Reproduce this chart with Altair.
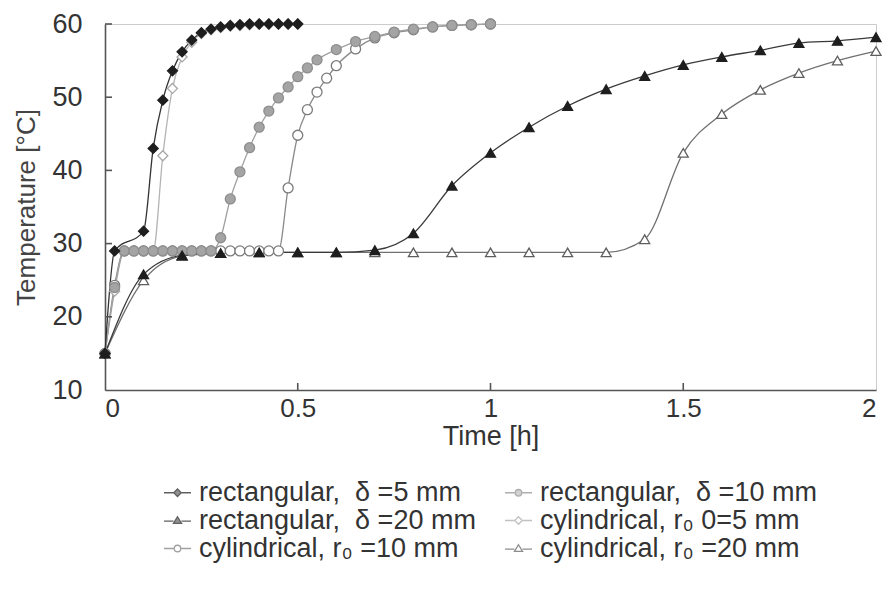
import altair as alt
import pandas as pd

NBSP = "\u00a0"
S_R5 = "rectangular," + NBSP + " δ =5 mm"
S_R10 = "rectangular," + NBSP + " δ =10 mm"
S_R20 = "rectangular," + NBSP + " δ =20 mm"
S_C5 = "cylindrical, r₀ 0=5 mm"
S_C10 = "cylindrical, r₀ =10 mm"
S_C20 = "cylindrical, r₀ =20 mm"

# legend is filled column by column: first column, then second column
LEGEND_ORDER = [S_R5, S_R20, S_C10, S_R10, S_C5, S_C20]

rect5_t = [0, 0.025, 0.1, 0.125, 0.15, 0.175, 0.2, 0.225, 0.25, 0.275, 0.3, 0.325,
           0.35, 0.375, 0.4, 0.425, 0.45, 0.475, 0.5]
rect5_T = [15, 29, 31.7, 43, 49.6, 53.6, 56.2, 57.8, 58.8, 59.3, 59.6, 59.8,
           59.9, 60, 60, 60, 60, 60, 60]

rect10_t = [0, 0.025, 0.05, 0.075, 0.1, 0.125, 0.15, 0.175, 0.2, 0.225, 0.25, 0.275,
            0.3, 0.325, 0.35, 0.375, 0.4, 0.425, 0.45, 0.475, 0.5, 0.525, 0.55,
            0.6, 0.65, 0.7, 0.75, 0.8, 0.85, 0.9, 0.95, 1.0]
rect10_T = [15, 24, 29, 29, 29, 29, 29, 29, 29, 29, 29, 29,
            30.8, 36.1, 39.8, 43.1, 45.9, 48.1, 49.9, 51.4, 52.8, 54.0, 55.1,
            56.5, 57.6, 58.3, 58.9, 59.3, 59.6, 59.8, 59.9, 60]

rect20_t = [0, 0.1, 0.2, 0.3, 0.4, 0.5, 0.6, 0.7, 0.8, 0.9, 1.0,
            1.1, 1.2, 1.3, 1.4, 1.5, 1.6, 1.7, 1.8, 1.9, 2.0]
rect20_T = [15, 25.8, 28.4, 28.7, 28.8, 28.8, 28.8, 29.1, 31.4, 37.9, 42.4,
            45.9, 48.8, 51.1, 52.9, 54.4, 55.5, 56.4, 57.4, 57.7, 58.2]

cyl5_t = [0, 0.025, 0.05, 0.075, 0.1, 0.125, 0.15, 0.175, 0.2, 0.225, 0.25, 0.275,
          0.3, 0.325, 0.35, 0.375, 0.4, 0.425, 0.45, 0.475, 0.5]
cyl5_T = [15, 23.5, 29, 29, 29, 29, 42, 51.2, 55.5, 57.5, 58.7, 59.2,
          59.5, 59.7, 59.8, 59.9, 60, 60, 60, 60, 60]

cyl10_t = [0, 0.025, 0.05, 0.075, 0.1, 0.125, 0.15, 0.175, 0.2, 0.225, 0.25, 0.275,
           0.3, 0.325, 0.35, 0.375, 0.4, 0.425, 0.45, 0.475, 0.5, 0.525, 0.55, 0.575,
           0.6, 0.65, 0.7, 0.75, 0.8, 0.85, 0.9, 0.95, 1.0]
cyl10_T = [15, 24.3, 29, 29, 29, 29, 29, 29, 29, 29, 29, 29,
           29, 29, 29, 29, 29, 29, 29, 37.6, 44.8, 48.3, 50.7, 52.6,
           54.3, 56.6, 58.1, 58.8, 59.2, 59.6, 59.8, 59.9, 60]

cyl20_t = [0, 0.1, 0.2, 0.3, 0.4, 0.5, 0.6, 0.7, 0.8, 0.9, 1.0,
           1.1, 1.2, 1.3, 1.4, 1.5, 1.6, 1.7, 1.8, 1.9, 2.0]
cyl20_T = [15, 25.0, 28.3, 28.7, 28.8, 28.8, 28.8, 28.8, 28.8, 28.8, 28.8,
           28.8, 28.8, 28.8, 30.6, 42.4, 47.7, 51.0, 53.3, 55.0, 56.3]

X_TICKS = [0, 0.5, 1, 1.5, 2]
Y_TICKS = [10, 20, 30, 40, 50, 60]
X_INNER = [0.5, 1, 1.5]
Y_INNER = [20, 30, 40, 50, 60]

# drawing order: light series first, black last
draw = [
    (S_C5, cyl5_t, cyl5_T),
    (S_C20, cyl20_t, cyl20_T),
    (S_C10, cyl10_t, cyl10_T),
    (S_R10, rect10_t, rect10_T),
    (S_R20, rect20_t, rect20_T),
    (S_R5, rect5_t, rect5_T),
]
rows = []
for order, (name, ts, vs) in enumerate(draw):
    for a, b in zip(ts, vs):
        rows.append({"series": name, "t": a, "T": b, "ord": order})
df = pd.DataFrame(rows)

FONT = "Liberation Sans"
FS = 27
W, H = 771, 366

LINE = {S_R5: "#333333", S_R10: "#a0a0a0", S_R20: "#3a3a3a",
        S_C5: "#b4b4b4", S_C10: "#8a8a8a", S_C20: "#707070"}
STROKE = {S_R5: "#1e1e1e", S_R10: "#8e8e8e", S_R20: "#1e1e1e",
          S_C5: "#a8a8a8", S_C10: "#7a7a7a", S_C20: "#5e5e5e"}
FILL = {S_R5: "#1e1e1e", S_R10: "#a4a4a4", S_R20: "#1e1e1e",
        S_C5: "#ffffff", S_C10: "#ffffff", S_C20: "#ffffff"}
SHAPE = {S_R5: "diamond", S_R10: "circle", S_R20: "triangle-up",
         S_C5: "diamond", S_C10: "circle", S_C20: "triangle-up"}

P_DIA = "M-1,0L-0.28,0M0.28,0L1,0M0,-0.28L0.28,0L0,0.28L-0.28,0Z"
P_CIR = "M-1,0L-0.26,0M0.26,0L1,0M-0.24,0A0.24,0.24,0,1,0,0.24,0A0.24,0.24,0,1,0,-0.24,0Z"
P_TRI = "M-1,0.05L-0.3,0.05M0.3,0.05L1,0.05M0,-0.28L0.3,0.22L-0.3,0.22Z"
LPATH = {S_R5: P_DIA, S_R10: P_CIR, S_R20: P_TRI, S_C5: P_DIA, S_C10: P_CIR, S_C20: P_TRI}

dom = LEGEND_ORDER
rng = lambda d: [d[k] for k in dom]

xs = alt.Scale(domain=[0, 2], nice=False, zero=False)
ys = alt.Scale(domain=[10, 60], nice=False, zero=False)

x_enc = alt.X("t:Q", scale=xs, axis=alt.Axis(
    values=X_TICKS, format="~g", title="Time [h]", grid=False, ticks=False, tickSize=0,
    labelFont=FONT, labelFontSize=FS - 1, labelColor="#333", labelPadding=5,
    titleFont=FONT, titleFontSize=FS, titleFontWeight="normal", titleColor="#333",
    titlePadding=2, domainColor="#555", domainWidth=1.6))
y_enc = alt.Y("T:Q", scale=ys, axis=alt.Axis(
    values=Y_TICKS, title="Temperature [°C]", grid=False, ticks=False, tickSize=0,
    labelFont=FONT, labelFontSize=FS, labelColor="#333", labelPadding=23,
    titleFont=FONT, titleFontSize=FS - 1, titleFontWeight="normal", titleColor="#444",
    titlePadding=12, domainColor="#555", domainWidth=1.6))

lines = alt.Chart(df).mark_line(interpolate="monotone", strokeWidth=1.3).encode(
    x=x_enc, y=y_enc,
    color=alt.Color("series:N", scale=alt.Scale(domain=dom, range=rng(LINE)), legend=None),
    order=alt.Order("t:Q"),
    detail="series:N",
)

points = alt.Chart(df).mark_point(filled=False, strokeWidth=1.3, opacity=1, size=100).encode(
    x="t:Q", y="T:Q",
    color=alt.Color("series:N", scale=alt.Scale(domain=dom, range=rng(STROKE)), legend=None),
    fill=alt.Fill("series:N", scale=alt.Scale(domain=dom, range=rng(FILL)), legend=None),
    shape=alt.Shape("series:N", scale=alt.Scale(domain=dom, range=rng(SHAPE)), legend=None),
    order=alt.Order("ord:Q"),
)

leg = alt.Legend(
    title=None, orient="none", legendX=58, legendY=454, columns=2,
    columnPadding=26, rowPadding=0, symbolSize=729, symbolStrokeWidth=1.3,
    labelFont=FONT, labelFontSize=FS, labelColor="#333", labelLimit=600, labelOffset=7,
)
legend_layer = alt.Chart(df).transform_filter("false").mark_point(filled=False, strokeWidth=1.3).encode(
    x="t:Q", y="T:Q",
    color=alt.Color("series:N", scale=alt.Scale(domain=dom, range=rng(STROKE)), legend=leg),
    fill=alt.Fill("series:N", scale=alt.Scale(domain=dom, range=rng(FILL)), legend=leg),
    shape=alt.Shape("series:N", scale=alt.Scale(domain=dom, range=rng(LPATH)), legend=leg),
)

xt = pd.DataFrame({"v": X_INNER})
yt = pd.DataFrame({"v": Y_INNER})
xticks = alt.Chart(xt).mark_rule(color="#555", strokeWidth=1.6).encode(
    x=alt.X("v:Q", scale=xs), y=alt.value(H), y2=alt.value(H - 7))
yticks = alt.Chart(yt).mark_rule(color="#555", strokeWidth=1.6).encode(
    y=alt.Y("v:Q", scale=ys), x=alt.value(0), x2=alt.value(7))

chart = alt.layer(lines, points, legend_layer, xticks, yticks).resolve_scale(
    color="independent", fill="independent", shape="independent"
).properties(
    width=W, height=H,
    autosize=alt.AutoSizeParams(type="none"),
    padding={"left": 105, "top": 24, "right": 10, "bottom": 205},
    background="white",
).configure_view(stroke="#cccccc", strokeWidth=1)

chart.save("out.html", embed_options={"renderer": "svg", "actions": False})
